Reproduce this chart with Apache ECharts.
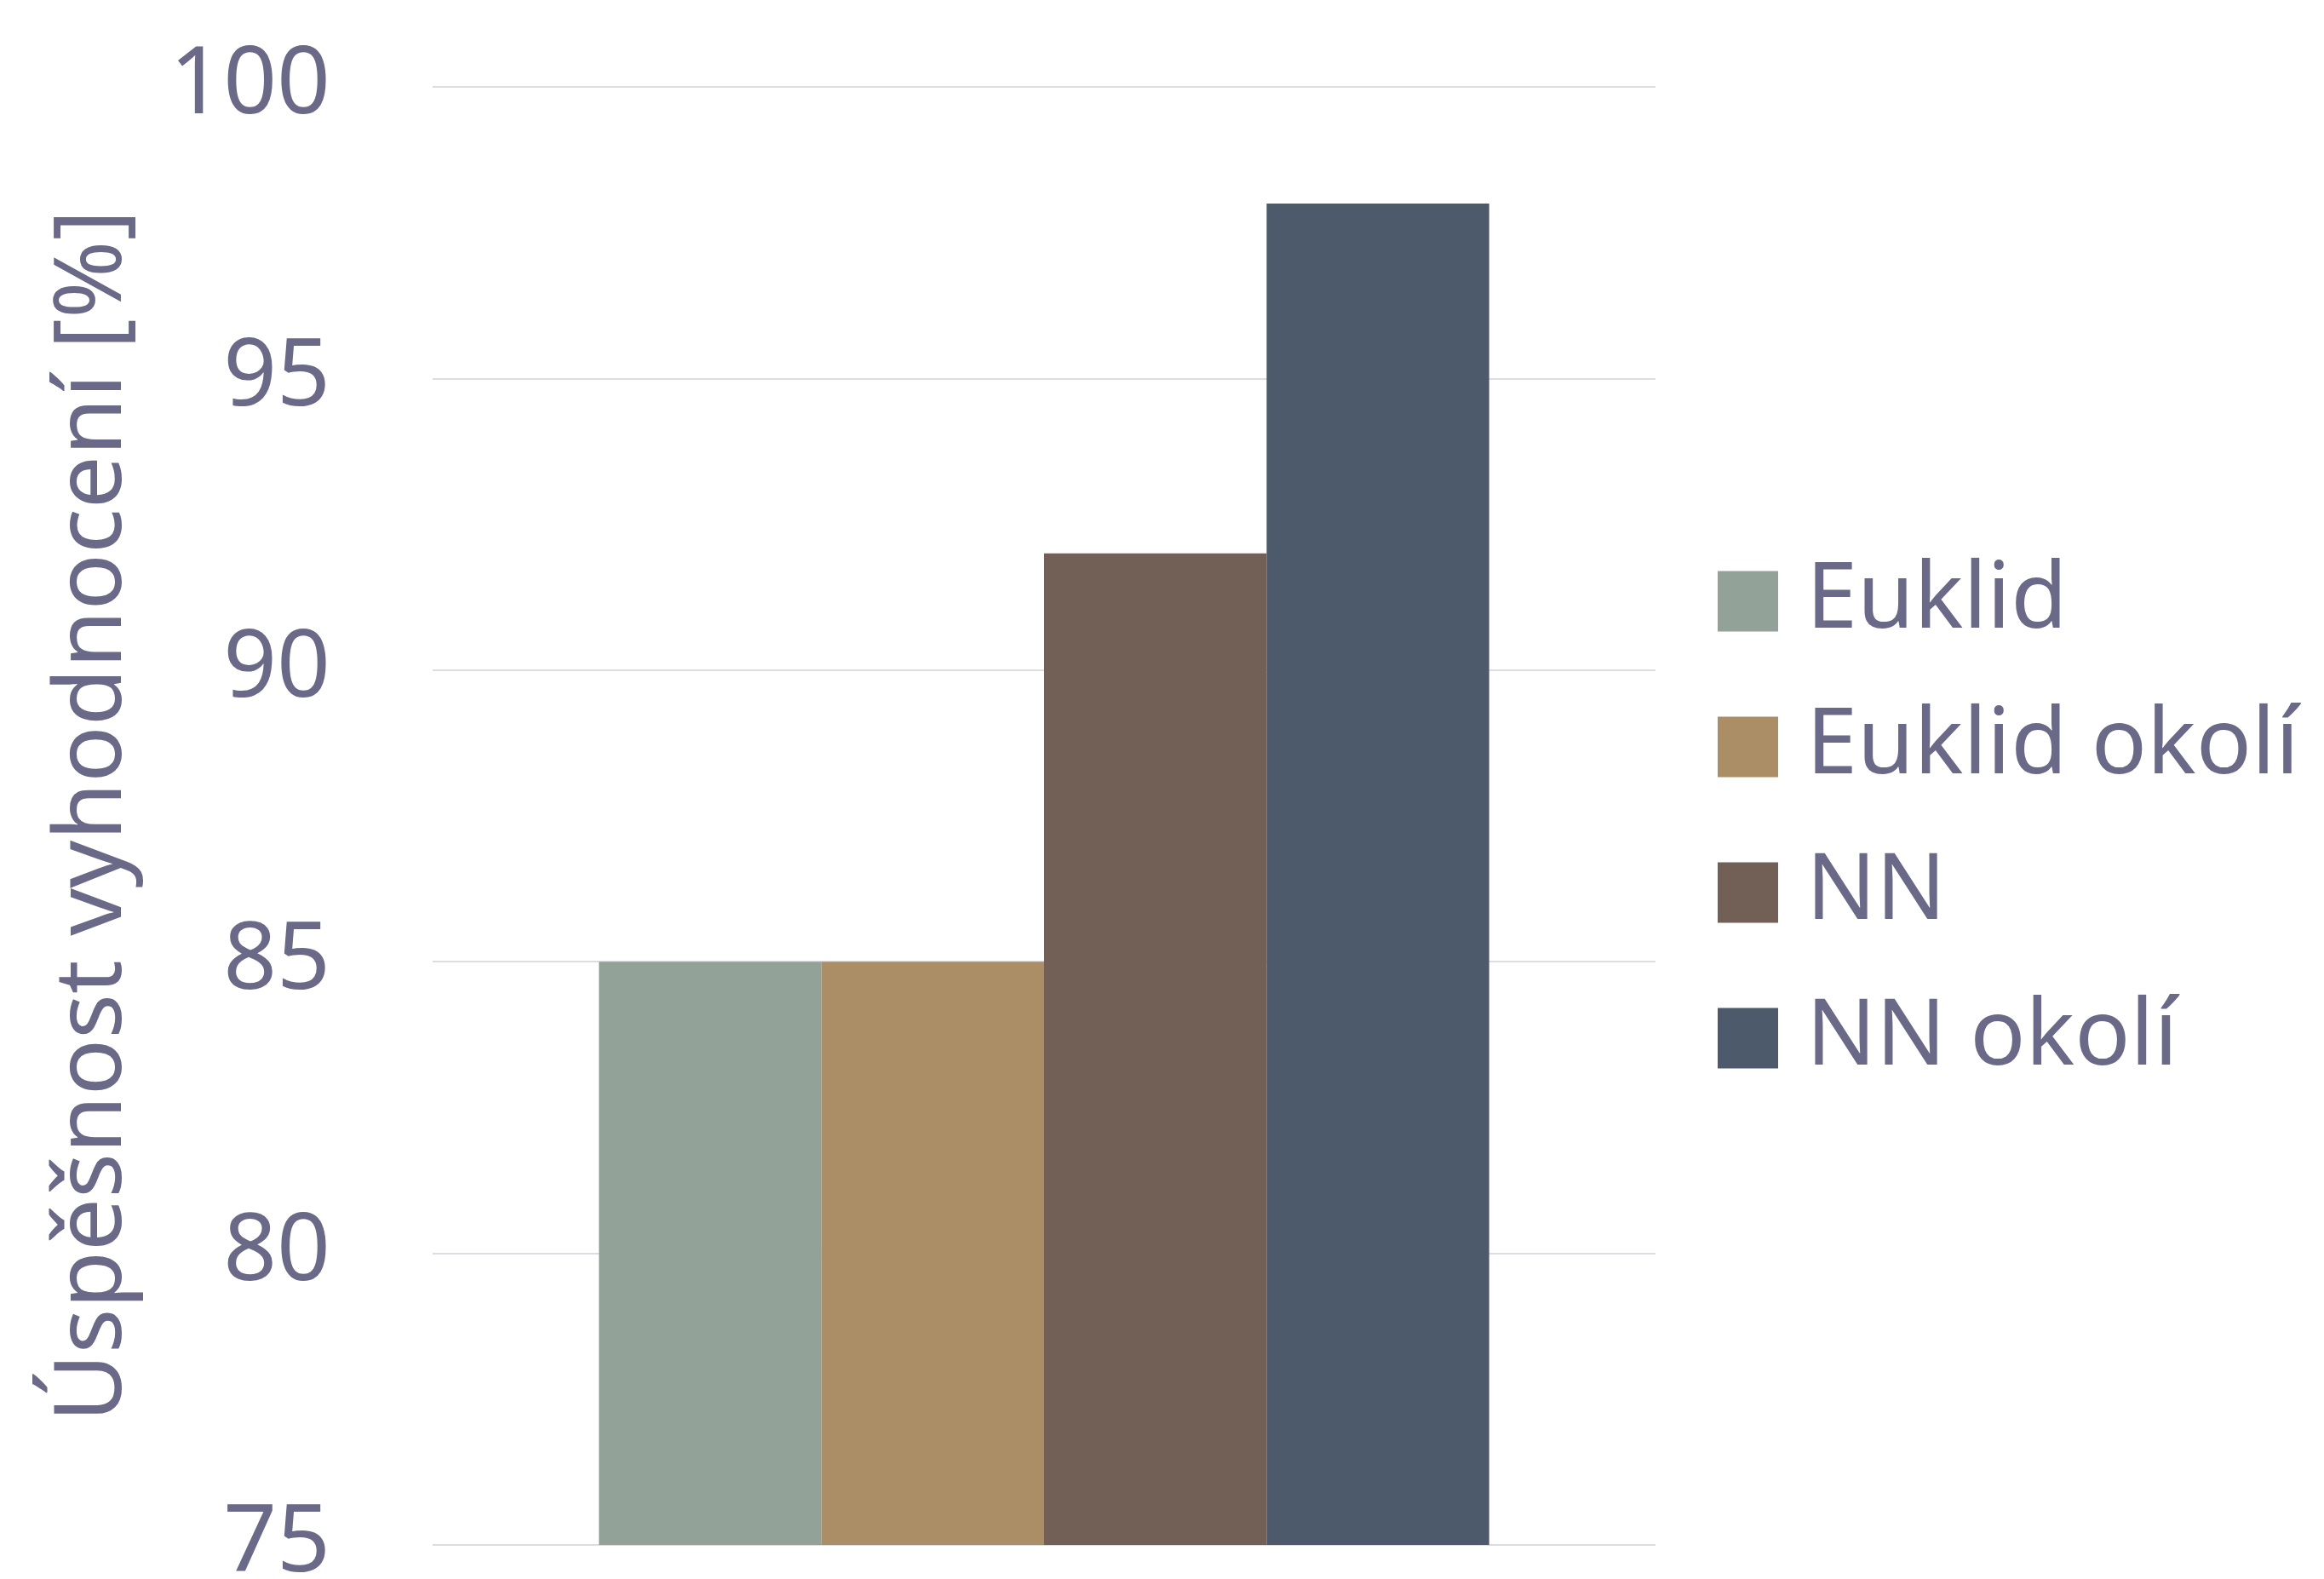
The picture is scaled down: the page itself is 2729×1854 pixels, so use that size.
<!DOCTYPE html>
<html>
<head>
<meta charset="utf-8">
<script src="https://cdn.jsdelivr.net/npm/echarts@6/dist/echarts.min.js"></script>
<style>
html,body{margin:0;padding:0;background:#fff;}
#c{width:2729px;height:1854px;}
</style>
</head>
<body>
<div id="c"></div>
<script>
const categories = [''];
const seriesNames = ['Euklid', 'Euklid okolí', 'NN', 'NN okolí'];
const seriesValues = [[85], [85], [92], [98]];
const seriesColors = ['#93a298', '#ab8e66', '#726056', '#4d5a6b'];
const yTicks = { min: 75, max: 100, interval: 5 };
const yAxisTitle = 'Úspěšnost vyhodnocení [%]';

const textColor = '#6a6a88';
const fontFamily = '"Noto Sans", "Open Sans", sans-serif';

const chart = echarts.init(document.getElementById('c'));
chart.setOption({
  backgroundColor: '#ffffff',
  animation: false,
  grid: { left: 508, top: 102, width: 1436, height: 1712, containLabel: false, outerBoundsMode: 'none' },
  legend: {
    orient: 'vertical',
    left: 2012,
    top: 647,
    itemWidth: 71,
    itemHeight: 71,
    itemGap: 63,
    icon: 'rect',
    textStyle: { color: textColor, fontSize: 108, fontFamily: fontFamily, lineHeight: 108, padding: [0, 0, 0, 28] },
    data: seriesNames
  },
  xAxis: {
    type: 'category',
    data: categories,
    axisLine: { show: false },
    axisTick: { show: false },
    axisLabel: { show: false },
    splitLine: { show: false }
  },
  yAxis: {
    type: 'value',
    min: yTicks.min,
    max: yTicks.max,
    interval: yTicks.interval,
    axisLine: { show: false },
    axisTick: { show: false },
    axisLabel: { color: textColor, fontSize: 110, fontFamily: fontFamily, margin: 120 },
    splitLine: { show: true, lineStyle: { color: '#dcdce2', width: 2 } },
    name: yAxisTitle,
    nameLocation: 'middle',
    nameRotate: 90,
    nameGap: 342,
    nameTextStyle: { color: textColor, fontSize: 110, fontFamily: fontFamily }
  },
  series: seriesNames.map((n, i) => ({
    name: n,
    type: 'bar',
    data: seriesValues[i],
    barGap: '0%',
    barCategoryGap: '27.2%',
    itemStyle: { color: seriesColors[i] }
  }))
});
</script>
</body>
</html>
